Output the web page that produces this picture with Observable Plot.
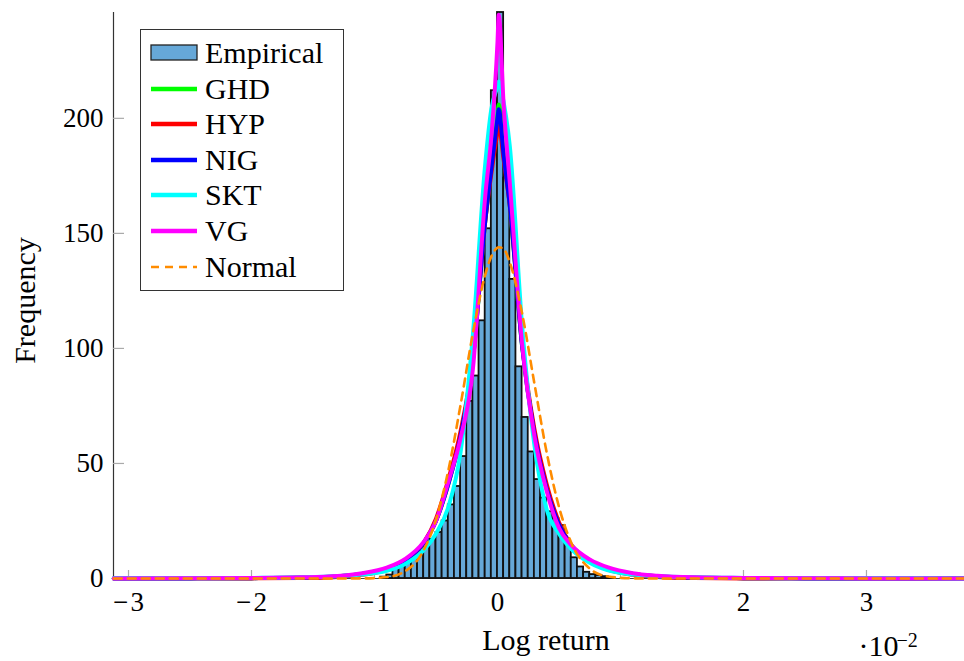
<!DOCTYPE html>
<html>
<head>
<meta charset="utf-8">
<script src="https://cdn.jsdelivr.net/npm/d3@7"></script>
<script src="https://cdn.jsdelivr.net/npm/@observablehq/plot@0.6"></script>
<style>
  body { margin: 0; background: #fff; }
  #wrap { position: relative; width: 964px; height: 661px; font-family: "Liberation Serif", serif; }
  #legend { position: absolute; left: 140px; top: 29px; width: 204px; height: 262px; box-sizing: border-box;
            border: 1px solid #333; background: #fff; }
  .row { position: absolute; left: 0; height: 30px; width: 200px; }
  .row svg { position: absolute; left: 9px; top: 5px; }
  .row span { position: absolute; left: 64px; top: 0; font-size: 30px; line-height: 30px; white-space: nowrap; color: #000; }
</style>
</head>
<body>
<div id="wrap">
  <div id="chart"></div>
  <div id="legend"></div>
</div>
<script>
// ---------- data (log return in units of 1e-2) ----------
const xTicks = [-3, -2, -1, 0, 1, 2, 3];
const yTicks = [0, 50, 100, 150, 200];
const xDomain = [-3.122, 3.797];
const yDomain = [0, 246];

// histogram: bins of width 0.05 starting at -0.95
const binStart = -0.95;
const binWidth = 0.05;
const binHeights = [0.6, 1.5, 4.3, 5.5, 7, 9, 12, 15, 17, 20, 25, 32, 40, 53, 77, 88, 112, 152, 212,
                    246, 174, 130, 92, 70, 55, 43, 35, 29, 26, 23, 15, 9, 5, 2.7, 1.7, 1.3, 0.8, 0.5];

// fitted densities, read at these x positions
const curveX = [-3.12, -2.5, -2, -1.6, -1.3, -1.1, -0.9, -0.75, -0.6, -0.5, -0.4, -0.3, -0.2, -0.1, -0.05, 0, 0.01,
                0.05, 0.1, 0.2, 0.3, 0.4, 0.5, 0.6, 0.75, 0.9, 1.1, 1.3, 1.6, 2, 2.5, 3, 3.79];
const ghd = [0.01, 0.05, 0.15, 0.4, 1, 2, 4.3, 8, 15.5, 25, 41, 62, 95, 155, 180, 201, 206,
             186, 162, 101, 63, 39, 23.5, 14.5, 7.8, 4.3, 2, 1, 0.4, 0.15, 0.05, 0.02, 0.01];
const hyp = [0, 0.01, 0.05, 0.2, 0.7, 1.6, 3.8, 7.5, 15.5, 26, 43, 64, 96, 155, 176, 194, 197,
             182, 162, 102, 65, 41, 24.5, 14.5, 7.3, 3.8, 1.6, 0.7, 0.2, 0.05, 0.01, 0, 0];
const nig = [0.01, 0.05, 0.15, 0.4, 1, 2, 4.3, 8, 15.5, 25, 41, 62, 95, 155, 178, 200, 204,
             184, 162, 101, 63, 39, 23.5, 14.5, 7.8, 4.3, 2, 1, 0.4, 0.15, 0.05, 0.02, 0.01];
const skt = [0.07, 0.13, 0.25, 0.5, 1, 1.7, 3.3, 6.3, 12.3, 19.5, 31, 55, 106, 180, 204, 214, 216,
             207, 188, 110, 58, 30, 19.5, 12.8, 6.8, 3.5, 1.7, 1, 0.5, 0.25, 0.13, 0.08, 0.04];
const vg  = [0.03, 0.08, 0.2, 0.5, 1.1, 2.3, 4.7, 8.5, 15.9, 25, 42, 61, 91, 166, 192, 233, 245,
             206, 172, 102, 62, 38, 22, 14.5, 8.3, 4.8, 2.3, 1.2, 0.5, 0.25, 0.1, 0.05, 0.02];
const normal = [0, 0, 0, 0, 0.002, 0.04, 0.62, 3.2, 12.3, 25.6, 46.9, 75.5, 106.6, 132, 140, 143.8, 144,
                143.2, 137.4, 115.3, 84.8, 54.8, 31.1, 15.5, 4.3, 0.88, 0.07, 0.005, 0, 0, 0, 0, 0];

const seriesNames = ["GHD", "HYP", "NIG", "SKT", "VG"];
const seriesValues = [ghd, hyp, nig, skt, vg];
const seriesColors = ["#00ff00", "#ff0000", "#0000ff", "#00ffff", "#ff00ff"];
const normalColor = "#ff8c00";
const barFill = "#66a8d8";

// ---------- build tables ----------
const bins = binHeights.map((h, i) => ({x1: binStart + i * binWidth, x2: binStart + (i + 1) * binWidth, h}));
const table = (vals) => curveX.map((x, i) => ({x, y: vals[i]}));
const fmt = d => d < 0 ? "\u2212\u200a" + Math.abs(d) : String(d);

const chart = Plot.plot({
  width: 964, height: 661,
  marginLeft: 113, marginRight: 0, marginTop: 12, marginBottom: 83,
  x: {domain: xDomain, label: null},
  y: {domain: yDomain, label: null},
  style: {fontFamily: "Liberation Serif", background: "transparent", overflow: "visible"},
  marks: [
    Plot.ruleY([0], {stroke: "#444", strokeWidth: 1.2}),
    Plot.ruleX([xDomain[0]], {stroke: "#333", strokeWidth: 1.2}),
    Plot.ruleX(xTicks, {x: d => d, y1: 0, y2: 0, insetBottom: 8, stroke: "#aaa", strokeWidth: 1.2}),
    Plot.ruleY(yTicks, {y: d => d, x1: xDomain[0], x2: xDomain[0], insetLeft: 11, stroke: "#aaa", strokeWidth: 1.2}),
    Plot.rectY(bins, {x1: "x1", x2: "x2", y: "h", fill: barFill, stroke: "#111", strokeWidth: 1.8}),
    ...seriesValues.map((vals, k) => Plot.line(table(vals), {x: "x", y: "y", stroke: seriesColors[k], strokeWidth: 4,
        curve: "monotone-x", strokeLinejoin: "round"})),
    Plot.line(table(normal), {x: "x", y: "y", stroke: normalColor, strokeWidth: 2.6, strokeDasharray: "8,6", curve: "monotone-x"}),
    Plot.axisX({ticks: xTicks, tickSize: 0, tickPadding: 13, fontSize: 27, tickFormat: fmt, label: null}),
    Plot.axisY({ticks: yTicks, tickSize: 0, tickPadding: 10, fontSize: 27, tickFormat: fmt, label: null}),
    Plot.text(["Frequency"], {text: d => d, frameAnchor: "left", textAnchor: "middle", lineAnchor: "middle",
        dx: -88, dy: 5, rotate: -90, fontSize: 30}),
    Plot.text(["Log return"], {text: d => d, frameAnchor: "bottom", textAnchor: "middle", lineAnchor: "middle",
        dx: 7, dy: 62, fontSize: 30}),
    Plot.text(["\u00b710"], {text: d => d, frameAnchor: "bottom-right", dx: -106, dy: 68, textAnchor: "start",
        lineAnchor: "middle", fontSize: 30}),
    Plot.text(["\u22122"], {text: d => d, frameAnchor: "bottom-right", dx: -68, dy: 62, textAnchor: "start",
        lineAnchor: "middle", fontSize: 20})
  ]
});
document.getElementById("chart").appendChild(chart);

// ---------- legend ----------
const legend = document.getElementById("legend");
const entries = [{name: "Empirical", type: "bar"}]
  .concat(seriesNames.map((n, k) => ({name: n, type: "line", color: seriesColors[k]})))
  .concat([{name: "Normal", type: "dash", color: normalColor}]);
entries.forEach((e, i) => {
  const row = document.createElement("div");
  row.className = "row";
  row.style.top = (23 + i * 35.6 - 15) + "px";
  let sw;
  if (e.type === "bar") sw = `<svg width="48" height="20"><rect x="1" y="2" width="46" height="15" fill="${barFill}" stroke="#222" stroke-width="1.3"/></svg>`;
  else if (e.type === "line") sw = `<svg width="48" height="20"><line x1="1" x2="47" y1="10" y2="10" stroke="${e.color}" stroke-width="4.5"/></svg>`;
  else sw = `<svg width="48" height="20"><line x1="1" x2="47" y1="10" y2="10" stroke="${e.color}" stroke-width="2.6" stroke-dasharray="8,6"/></svg>`;
  row.innerHTML = sw + `<span>${e.name}</span>`;
  legend.appendChild(row);
});
</script>
</body>
</html>
